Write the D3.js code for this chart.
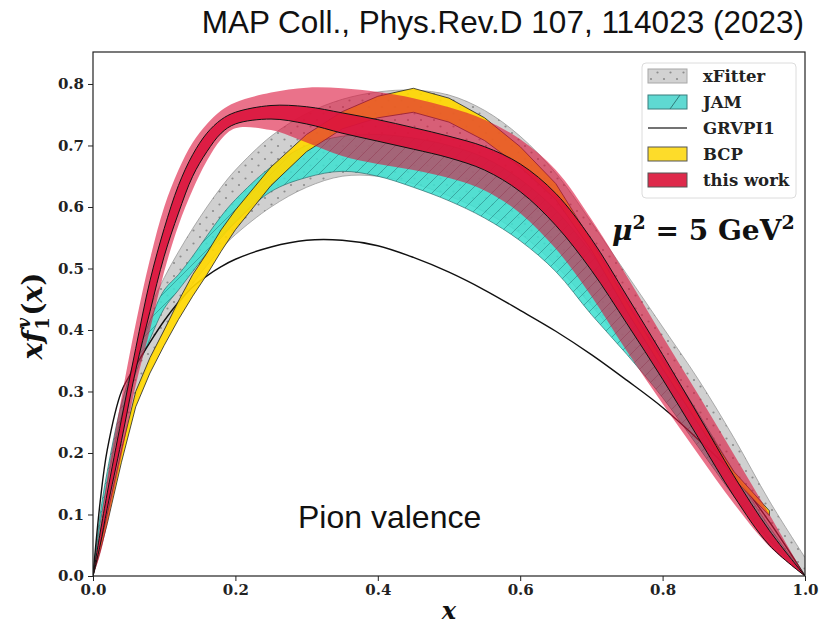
<!DOCTYPE html>
<html>
<head>
<meta charset="utf-8">
<script src="https://cdn.jsdelivr.net/npm/d3@7"></script>
<style>
  body { margin: 0; background: #fff; }
  svg { display: block; }
  .axis .tick text { font-family: "DejaVu Serif", serif; font-weight: bold; font-size: 15px; fill: #222; }
  .axis path, .axis line { stroke: #222; }
</style>
</head>
<body>
<script>
// x grid shared by every band
var xGrid = [0, 0.01, 0.02, 0.04, 0.06, 0.08, 0.10, 0.12, 0.14, 0.16, 0.18, 0.20, 0.25, 0.30,
             0.35, 0.40, 0.45, 0.50, 0.55, 0.60, 0.65, 0.70, 0.75, 0.80, 0.85, 0.90, 0.95, 1.00];

// xFitter band
var xfitUp = [0, 0.09, 0.16, 0.275, 0.36, 0.435, 0.485, 0.527, 0.565, 0.60, 0.632, 0.66, 0.715, 0.752,
              0.775, 0.787, 0.79, 0.782, 0.757, 0.715, 0.655, 0.575, 0.49, 0.405, 0.32, 0.225, 0.122, 0.03];
var xfitLo = [0, 0.05, 0.10, 0.20, 0.29, 0.35, 0.40, 0.44, 0.475, 0.505, 0.532, 0.555, 0.60, 0.632,
              0.65, 0.65, 0.638, 0.618, 0.592, 0.557, 0.505, 0.44, 0.37, 0.295, 0.215, 0.135, 0.06, 0];

// JAM band
var jamUp = [0, 0.10, 0.17, 0.28, 0.355, 0.415, 0.465, 0.49, 0.52, 0.553, 0.585, 0.612, 0.665, 0.70,
             0.715, 0.718, 0.712, 0.70, 0.68, 0.645, 0.595, 0.525, 0.44, 0.355, 0.265, 0.17, 0.08, 0];
var jamLo = [0, 0.085, 0.15, 0.26, 0.33, 0.385, 0.435, 0.465, 0.495, 0.525, 0.55, 0.575, 0.625, 0.648,
             0.658, 0.65, 0.632, 0.61, 0.582, 0.545, 0.495, 0.425, 0.36, 0.29, 0.21, 0.13, 0.058, 0];

// GRVPI1 curve
var grvpi = [0, 0.12, 0.205, 0.30, 0.342, 0.38, 0.415, 0.445, 0.47, 0.488, 0.503, 0.515, 0.535, 0.546,
             0.546, 0.537, 0.518, 0.494, 0.465, 0.432, 0.398, 0.36, 0.318, 0.274, 0.222, 0.165, 0.088, 0];

// BCP band (stops at x = 0.95)
var bcpUp = [0, 0.05, 0.10, 0.205, 0.30, 0.355, 0.40, 0.447, 0.49, 0.525, 0.563, 0.595, 0.665, 0.718,
             0.755, 0.78, 0.793, 0.777, 0.745, 0.698, 0.638, 0.545, 0.445, 0.35, 0.26, 0.17, 0.106];
var bcpLo = [0, 0.04, 0.085, 0.185, 0.275, 0.33, 0.375, 0.417, 0.455, 0.49, 0.528, 0.563, 0.635, 0.69,
             0.727, 0.745, 0.754, 0.738, 0.708, 0.665, 0.612, 0.53, 0.43, 0.337, 0.248, 0.158, 0.098];

// this work: wide light band and narrow band
var workOutUp = [0, 0.08, 0.16, 0.29, 0.41, 0.515, 0.60, 0.66, 0.705, 0.735, 0.757, 0.77, 0.786, 0.794,
                 0.793, 0.787, 0.777, 0.762, 0.742, 0.71, 0.66, 0.58, 0.487, 0.39, 0.295, 0.198, 0.1, 0];
var workOutLo = [0, 0.035, 0.085, 0.195, 0.31, 0.40, 0.495, 0.57, 0.628, 0.675, 0.71, 0.728, 0.725, 0.705,
                 0.683, 0.67, 0.66, 0.647, 0.627, 0.59, 0.532, 0.455, 0.365, 0.28, 0.198, 0.118, 0.048, 0];
var workUp = [0, 0.07, 0.135, 0.255, 0.37, 0.48, 0.565, 0.635, 0.685, 0.72, 0.742, 0.754, 0.765, 0.763,
              0.753, 0.742, 0.729, 0.715, 0.698, 0.67, 0.622, 0.548, 0.455, 0.36, 0.262, 0.163, 0.074, 0];
var workLo = [0, 0.05, 0.11, 0.22, 0.335, 0.43, 0.52, 0.59, 0.65, 0.69, 0.72, 0.735, 0.743, 0.735,
              0.72, 0.707, 0.694, 0.68, 0.66, 0.625, 0.57, 0.497, 0.41, 0.32, 0.225, 0.13, 0.05, 0];

// ticks and legend
var xTicks = [0, 0.2, 0.4, 0.6, 0.8, 1.0];
var yTicks = [0, 0.1, 0.2, 0.3, 0.4, 0.5, 0.6, 0.7, 0.8];
var legendNames = ["xFitter", "JAM", "GRVPI1", "BCP", "this work"];

// margin
var margin = {top: 52, right: 15, bottom: 53, left: 93},
    width = 820 - margin.left - margin.right,
    height = 629 - margin.top - margin.bottom;

var x = d3.scaleLinear().domain([0, 1]).range([0, width]);
var y = d3.scaleLinear().domain([0, 0.852]).range([height, 0]);

var svg = d3.select("body").append("svg")
    .attr("width", 820)
    .attr("height", 629);

var defs = svg.append("defs");

// dotted hatch for xFitter
var dots = defs.append("pattern")
    .attr("id", "dots")
    .attr("patternUnits", "userSpaceOnUse")
    .attr("width", 13).attr("height", 13);
dots.append("circle").attr("cx", 3).attr("cy", 3).attr("r", 1.1).attr("fill", "#8c8c8c");
dots.append("circle").attr("cx", 9.5).attr("cy", 9.5).attr("r", 1.1).attr("fill", "#8c8c8c");

// slash hatch for JAM
var hatch = defs.append("pattern")
    .attr("id", "hatch")
    .attr("patternUnits", "userSpaceOnUse")
    .attr("width", 12).attr("height", 12);
hatch.append("path")
    .attr("d", "M0,12L12,0M-3,3L3,-3M9,15L15,9")
    .attr("stroke", "#1f6f70")
    .attr("stroke-opacity", 0.55)
    .attr("stroke-width", 0.9);

defs.append("clipPath").attr("id", "clip")
  .append("rect").attr("width", width).attr("height", height);

var g = svg.append("g")
    .attr("transform", "translate(" + margin.left + "," + margin.top + ")");

var plot = g.append("g").attr("clip-path", "url(#clip)");

function band(lo, hi) {
  return lo.map(function(v, i) { return {x: xGrid[i], lo: v, hi: hi[i]}; });
}

var smooth = d3.curveCatmullRom.alpha(0.5);

var area = d3.area()
    .x(function(d) { return x(d.x); })
    .y0(function(d) { return y(d.lo); })
    .y1(function(d) { return y(d.hi); })
    .curve(smooth);

var edgeHi = d3.line().x(function(d) { return x(d.x); }).y(function(d) { return y(d.hi); }).curve(smooth);
var edgeLo = d3.line().x(function(d) { return x(d.x); }).y(function(d) { return y(d.lo); }).curve(smooth);

// xFitter
var xfit = band(xfitLo, xfitUp);
plot.append("path").attr("d", area(xfit)).attr("fill", "#a9a9a9").attr("fill-opacity", 0.55);
plot.append("path").attr("d", area(xfit)).attr("fill", "url(#dots)");
plot.append("path").attr("d", edgeHi(xfit)).attr("fill", "none").attr("stroke", "#8f8f8f").attr("stroke-width", 0.7);
plot.append("path").attr("d", edgeLo(xfit)).attr("fill", "none").attr("stroke", "#8f8f8f").attr("stroke-width", 0.7);

// JAM
var jam = band(jamLo, jamUp);
plot.append("path").attr("d", area(jam)).attr("fill", "#40e0d0").attr("fill-opacity", 0.88);
plot.append("path").attr("d", area(jam)).attr("fill", "url(#hatch)");
plot.append("path").attr("d", edgeHi(jam)).attr("fill", "none").attr("stroke", "#2b6f6f").attr("stroke-width", 0.7);
plot.append("path").attr("d", edgeLo(jam)).attr("fill", "none").attr("stroke", "#2b6f6f").attr("stroke-width", 0.7);

// GRVPI1
plot.append("path")
    .datum(grvpi.map(function(v, i) { return {x: xGrid[i], hi: v}; }))
    .attr("d", edgeHi)
    .attr("fill", "none")
    .attr("stroke", "#111")
    .attr("stroke-width", 1.4);

// BCP, straight segments like the source
var bcp = band(bcpLo, bcpUp);
var areaLin = d3.area()
    .x(function(d) { return x(d.x); })
    .y0(function(d) { return y(d.lo); })
    .y1(function(d) { return y(d.hi); });
plot.append("path").attr("d", areaLin(bcp))
    .attr("fill", "#ffd700").attr("fill-opacity", 0.92)
    .attr("stroke", "#222").attr("stroke-width", 0.8);

// this work
plot.append("path").attr("d", area(band(workOutLo, workOutUp)))
    .attr("fill", "#dc143c").attr("fill-opacity", 0.6);
var work = band(workLo, workUp);
plot.append("path").attr("d", area(work)).attr("fill", "#dc143c").attr("fill-opacity", 0.9);
plot.append("path").attr("d", edgeHi(work)).attr("fill", "none").attr("stroke", "#111").attr("stroke-width", 1);
plot.append("path").attr("d", edgeLo(work)).attr("fill", "none").attr("stroke", "#111").attr("stroke-width", 1);

// axes
g.append("g")
    .attr("class", "axis")
    .attr("transform", "translate(0," + height + ")")
    .call(d3.axisBottom(x).tickValues(xTicks).tickFormat(d3.format(".1f")).tickSize(5).tickPadding(3))
    .select(".domain").remove();

g.append("g")
    .attr("class", "axis")
    .call(d3.axisLeft(y).tickValues(yTicks).tickFormat(d3.format(".1f")).tickSize(5).tickPadding(4))
    .select(".domain").remove();

g.append("rect")
    .attr("width", width).attr("height", height)
    .attr("fill", "none").attr("stroke", "#222").attr("stroke-width", 1.2);

// legend
var leg = g.append("g").attr("transform", "translate(" + (642 - margin.left) + "," + (63 - margin.top) + ")");
leg.append("rect")
    .attr("width", 154).attr("height", 135).attr("rx", 4)
    .attr("fill", "#fff").attr("fill-opacity", 0.85)
    .attr("stroke", "#dcdcdc");

var item = leg.selectAll(".item")
    .data(legendNames)
  .enter().append("g")
    .attr("class", "item")
    .attr("transform", function(d, i) { return "translate(6," + (13 + i * 26) + ")"; });

var patchFill = {"xFitter": "#d2d2d2", "JAM": "#5fd9d2", "BCP": "#fddc2a", "this work": "#de2a4b"};
var patchEdge = {"xFitter": "#a8a8a8", "JAM": "#3a7d7d", "BCP": "#555", "this work": "#555"};

item.filter(function(d) { return d !== "GRVPI1"; }).append("rect")
    .attr("x", 0).attr("y", -7).attr("width", 39).attr("height", 14)
    .attr("fill", function(d) { return patchFill[d]; })
    .attr("stroke", function(d) { return patchEdge[d]; })
    .attr("stroke-width", 1);
item.filter(function(d) { return d === "xFitter"; }).append("rect")
    .attr("x", 0).attr("y", -7).attr("width", 39).attr("height", 14)
    .attr("fill", "url(#dots)");
item.filter(function(d) { return d === "JAM"; }).append("path")
    .attr("d", "M22,7L32,-7")
    .attr("stroke", "#2b6f6f").attr("stroke-width", 0.9);
item.filter(function(d) { return d === "GRVPI1"; }).append("line")
    .attr("x1", 0).attr("x2", 39)
    .attr("stroke", "#444").attr("stroke-width", 1.6);

item.append("text")
    .attr("x", 55).attr("dy", "0.36em")
    .style("font-family", "DejaVu Serif, serif")
    .style("font-weight", "bold")
    .style("font-size", "16.5px")
    .style("fill", "#222")
    .text(function(d) { return d; });

// scale label
var mu = svg.append("text")
    .attr("x", 612).attr("y", 240)
    .style("font-family", "DejaVu Serif, serif")
    .style("font-weight", "bold")
    .style("font-size", "28px")
    .style("fill", "#111");
mu.append("tspan").style("font-style", "italic").text("\u03bc");
mu.append("tspan").attr("dy", -11).style("font-size", "19px").text("2");
mu.append("tspan").attr("dy", 11).text(" = 5 GeV");
mu.append("tspan").attr("dy", -11).style("font-size", "19px").text("2");

// axis titles
svg.append("text")
    .attr("x", 449).attr("y", 619)
    .attr("text-anchor", "middle")
    .style("font-family", "DejaVu Serif, serif")
    .style("font-weight", "bold")
    .style("font-style", "italic")
    .style("font-size", "24px")
    .style("fill", "#111")
    .text("x");

var yl = svg.append("text")
    .attr("transform", "translate(42,316) rotate(-90)")
    .attr("text-anchor", "middle")
    .style("font-family", "DejaVu Serif, serif")
    .style("font-weight", "bold")
    .style("font-size", "28px")
    .style("fill", "#111");
yl.append("tspan").style("font-style", "italic").text("xf");
yl.append("tspan").attr("dx", 1).attr("dy", 7).style("font-size", "18px").text("1");
yl.append("tspan").attr("dx", -11).attr("dy", -19).style("font-size", "18px").style("font-style", "italic").text("v");
yl.append("tspan").attr("dx", 2).attr("dy", 12).text("(");
yl.append("tspan").style("font-style", "italic").text("x");
yl.append("tspan").text(")");

// annotations
svg.append("text")
    .attr("x", 804).attr("y", 33)
    .attr("text-anchor", "end")
    .style("font-family", "Liberation Sans, Arial, sans-serif")
    .style("font-size", "31.5px")
    .style("fill", "#111")
    .text("MAP Coll., Phys.Rev.D 107, 114023 (2023)");

svg.append("text")
    .attr("x", 298).attr("y", 528)
    .style("font-family", "Liberation Sans, Arial, sans-serif")
    .style("font-size", "32px")
    .style("fill", "#111")
    .text("Pion valence");
</script>
</body>
</html>
